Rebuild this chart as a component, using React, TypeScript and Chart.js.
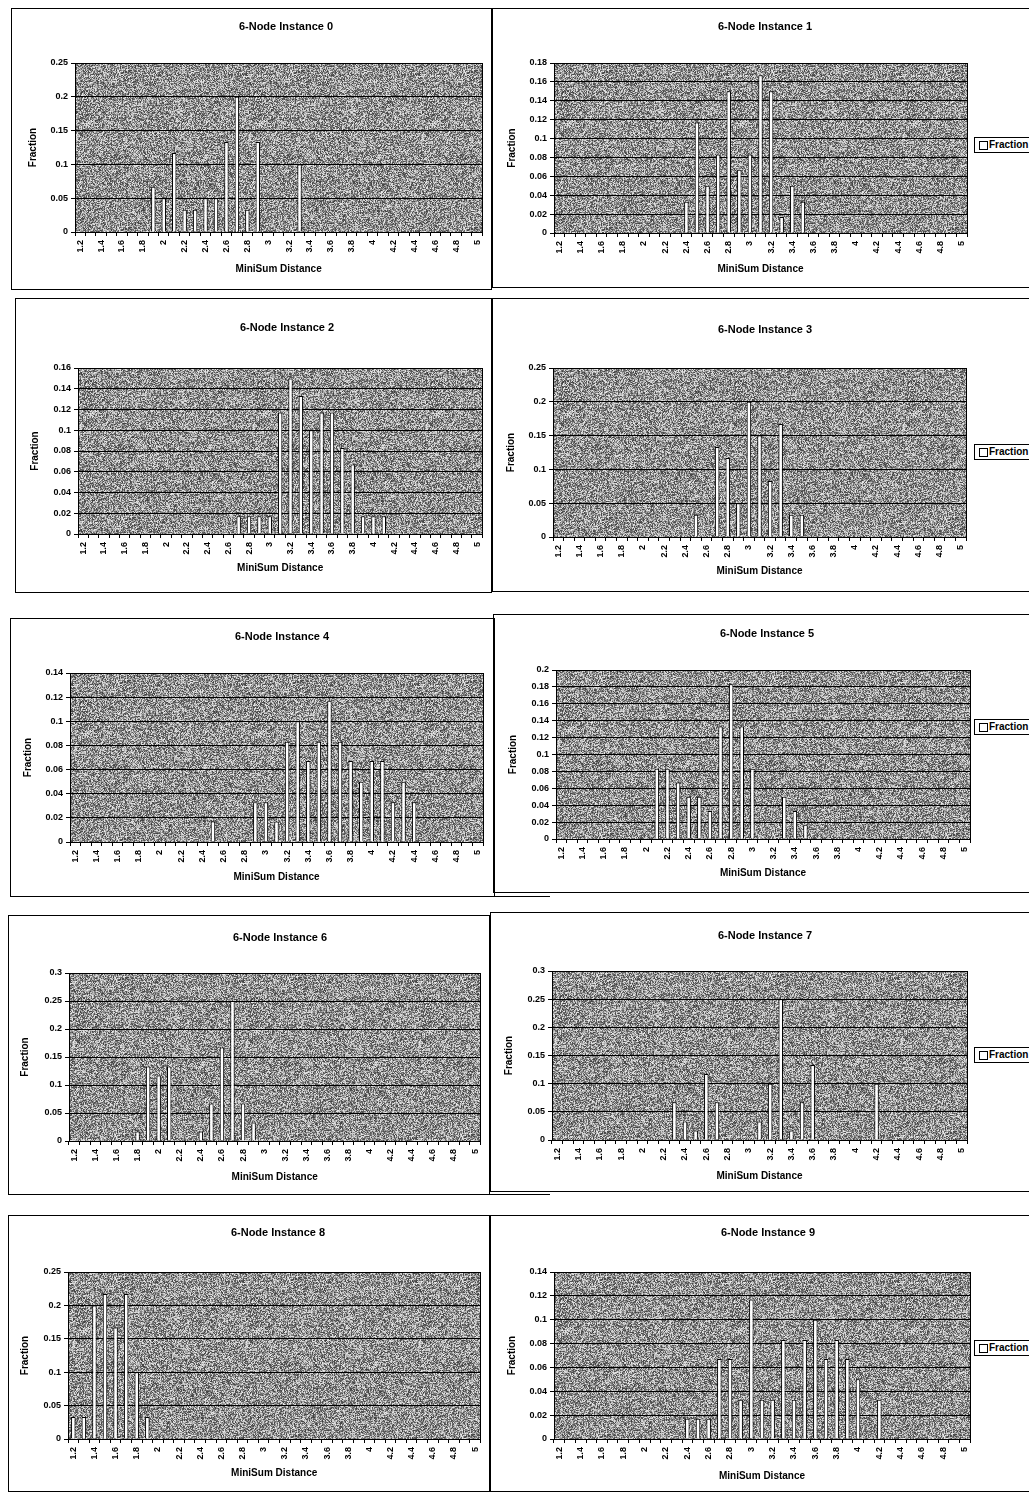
import React, { useEffect, useRef } from 'react';
import { Chart, registerables } from 'chart.js';

Chart.register(...registerables);

const FONT = '"Liberation Sans", Arial, Helvetica, sans-serif';

// ---------- DATA ----------
const categories = ['1.2','1.3','1.4','1.5','1.6','1.7','1.8','1.9','2','2.1','2.2','2.3','2.4','2.5','2.6','2.7','2.8','2.9','3','3.1','3.2','3.3','3.4','3.5','3.6','3.7','3.8','3.9','4','4.1','4.2','4.3','4.4','4.5','4.6','4.7','4.8','4.9','5'];

const seriesName = 'Fraction';
const xAxisTitle = 'MiniSum Distance';
const yAxisTitle = 'Fraction';

const chartTitles = [
  '6-Node Instance 0', '6-Node Instance 1', '6-Node Instance 2', '6-Node Instance 3', '6-Node Instance 4',
  '6-Node Instance 5', '6-Node Instance 6', '6-Node Instance 7', '6-Node Instance 8', '6-Node Instance 9',
];

const instance0 = [0,0,0,0,0,0,0,0.067,0.05,0.117,0.033,0.033,0.05,0.05,0.133,0.2,0.033,0.133,0,0,0,0.1,0,0,0,0,0,0,0,0,0,0,0,0,0,0,0,0,0];
const instance1 = [0,0,0,0,0,0,0,0,0,0,0,0,0.033,0.117,0.05,0.083,0.15,0.067,0.083,0.167,0.15,0.017,0.05,0.033,0,0,0,0,0,0,0,0,0,0,0,0,0,0,0];
const instance2 = [0,0,0,0,0,0,0,0,0,0,0,0,0,0,0,0.017,0.017,0.017,0.017,0.117,0.15,0.133,0.1,0.117,0.117,0.083,0.067,0.017,0.017,0.017,0,0,0,0,0,0,0,0,0];
const instance3 = [0,0,0,0,0,0,0,0,0,0,0,0,0,0.033,0,0.133,0.117,0.05,0.2,0.15,0.083,0.167,0.033,0.033,0,0,0,0,0,0,0,0,0,0,0,0,0,0,0];
const instance4 = [0,0,0,0,0,0,0,0,0,0,0,0,0,0.017,0,0,0,0.033,0.033,0.017,0.083,0.1,0.067,0.083,0.117,0.083,0.067,0.05,0.067,0.067,0.033,0.05,0.033,0,0,0,0,0,0];
const instance5 = [0,0,0,0,0,0,0,0,0,0.083,0.083,0.067,0.05,0.05,0.033,0.133,0.183,0.133,0.083,0,0,0.05,0.033,0.017,0,0,0,0,0,0,0,0,0,0,0,0,0,0,0];
const instance6 = [0,0,0,0,0,0,0.017,0.133,0.117,0.133,0,0,0.017,0.067,0.167,0.25,0.067,0.033,0,0,0,0,0,0,0,0,0,0,0,0,0,0,0,0,0,0,0,0,0];
const instance7 = [0,0,0,0,0,0,0,0,0,0,0,0.067,0.033,0.017,0.117,0.067,0,0,0,0.033,0.1,0.25,0.017,0.067,0.133,0,0,0,0,0,0.1,0,0,0,0,0,0,0,0];
const instance8 = [0.033,0.033,0.2,0.217,0.167,0.217,0.1,0.033,0,0,0,0,0,0,0,0,0,0,0,0,0,0,0,0,0,0,0,0,0,0,0,0,0,0,0,0,0,0,0];
const instance9 = [0,0,0,0,0,0,0,0,0,0,0,0,0.017,0.017,0.017,0.067,0.067,0.033,0.117,0.033,0.033,0.083,0.033,0.083,0.1,0.067,0.083,0.067,0.05,0,0.033,0,0,0,0,0,0,0,0];

const seriesList = [instance0, instance1, instance2, instance3, instance4, instance5, instance6, instance7, instance8, instance9];

const yMaxValues = [0.25, 0.18, 0.16, 0.25, 0.14, 0.2, 0.3, 0.3, 0.25, 0.14];
const yStepValues = [0.05, 0.02, 0.02, 0.05, 0.02, 0.02, 0.05, 0.05, 0.05, 0.02];

// ---------- LAYOUT (page coordinates) ----------
type PanelLayout = {
  box: [number, number, number, number];
  plot: [number, number, number, number];
  title: [number, number];
  yTitleX: number;
  xTitleY: number;
  legendY: number | null;
};

const panels: PanelLayout[] = [
  { box: [11, 8, 481, 282], plot: [75, 63, 485, 232], title: [286, 27], yTitleX: 33, xTitleY: 269, legendY: null },
  { box: [492, 8, 545, 280], plot: [554, 63, 967, 233], title: [765, 27], yTitleX: 512, xTitleY: 269, legendY: 145 },
  { box: [15, 298, 477, 295], plot: [78, 368, 485, 534], title: [287, 328], yTitleX: 35, xTitleY: 568, legendY: null },
  { box: [492, 298, 545, 294], plot: [553, 368, 966, 537], title: [765, 330], yTitleX: 511, xTitleY: 571, legendY: 452 },
  { box: [10, 618, 485, 279], plot: [70, 673, 483, 842], title: [282, 637], yTitleX: 28, xTitleY: 877, legendY: null },
  { box: [493, 614, 545, 279], plot: [556, 670, 970, 839], title: [767, 634], yTitleX: 513, xTitleY: 873, legendY: 727 },
  { box: [8, 915, 482, 280], plot: [69, 973, 482, 1141], title: [280, 938], yTitleX: 25, xTitleY: 1177, legendY: null },
  { box: [490, 912, 548, 280], plot: [552, 971, 967, 1140], title: [765, 936], yTitleX: 509, xTitleY: 1176, legendY: 1055 },
  { box: [8, 1215, 482, 277], plot: [68, 1272, 481, 1439], title: [278, 1233], yTitleX: 25, xTitleY: 1473, legendY: null },
  { box: [490, 1215, 548, 277], plot: [554, 1272, 970, 1439], title: [768, 1233], yTitleX: 512, xTitleY: 1476, legendY: 1348 },
];

// stray frame edges visible in the scan: [x, y, width]
const extraRules: [number, number, number][] = [
  [495, 896, 55],
  [490, 1194, 60],
];

// ---------- speckled gray plot background ----------
let noiseCanvas: HTMLCanvasElement | null = null;
function getNoise(): HTMLCanvasElement {
  if (noiseCanvas) return noiseCanvas;
  const c = document.createElement('canvas');
  c.width = 173;
  c.height = 157;
  const ctx = c.getContext('2d')!;
  const img = ctx.createImageData(c.width, c.height);
  let s = 2463534242 | 0;
  for (let i = 0; i < c.width * c.height; i++) {
    s ^= s << 13;
    s ^= s >> 17;
    s ^= s << 5;
    const r = ((s >>> 0) % 1000) / 1000;
    const v = r < 0.5 ? 62 + r * 2 * 80 : 150 + (r - 0.5) * 2 * 85;
    img.data[i * 4] = v;
    img.data[i * 4 + 1] = v;
    img.data[i * 4 + 2] = v;
    img.data[i * 4 + 3] = 255;
  }
  ctx.putImageData(img, 0, 0);
  noiseCanvas = c;
  return c;
}

const decoPlugin = {
  id: 'panelDeco',
  beforeDraw(chart: any) {
    const { ctx, chartArea } = chart;
    const pat = ctx.createPattern(getNoise(), 'repeat');
    ctx.save();
    ctx.fillStyle = pat || '#909090';
    ctx.fillRect(chartArea.left, chartArea.top, chartArea.right - chartArea.left, chartArea.bottom - chartArea.top);
    ctx.restore();
  },
  afterDraw(chart: any, _args: any, opts: any) {
    const { ctx, chartArea } = chart;
    ctx.save();
    ctx.strokeStyle = '#000';
    ctx.lineWidth = 1;
    ctx.strokeRect(
      Math.round(chartArea.left) + 0.5,
      Math.round(chartArea.top) + 0.5,
      Math.round(chartArea.right - chartArea.left),
      Math.round(chartArea.bottom - chartArea.top)
    );
    ctx.fillStyle = '#000';
    ctx.font = `bold 11px ${FONT}`;
    ctx.textAlign = 'center';
    ctx.textBaseline = 'middle';
    ctx.fillText(opts.text, opts.x, opts.y);
    ctx.restore();
  },
};

function fmt(v: number): string {
  return String(parseFloat(Number(v).toFixed(3)));
}

function Panel({ idx }: { idx: number }) {
  const ref = useRef<HTMLCanvasElement>(null);
  const p = panels[idx];
  const [bx, by, bw, bh] = p.box;
  const [px0, py0, px1, py1] = p.plot;

  useEffect(() => {
    const chart = new Chart(ref.current!, {
      type: 'bar',
      data: {
        labels: categories,
        datasets: [
          {
            label: seriesName,
            data: seriesList[idx],
            backgroundColor: '#ffffff',
            borderColor: '#000000',
            borderWidth: 1,
            barPercentage: 0.42,
            categoryPercentage: 1,
          },
        ],
      },
      options: {
        responsive: false,
        animation: false,
        devicePixelRatio: 1,
        events: [],
        layout: { padding: { top: py0 - by, left: 0, right: bx + bw - px1, bottom: 0 } },
        plugins: {
          legend: { display: false },
          title: { display: false },
          tooltip: { enabled: false },
          panelDeco: { text: chartTitles[idx], x: p.title[0] - bx, y: p.title[1] - by },
        } as any,
        scales: {
          x: {
            offset: true,
            grid: { display: true, drawOnChartArea: false, drawTicks: true, tickLength: 4, color: '#000' },
            border: { display: true, color: '#000', width: 1 },
            ticks: {
              autoSkip: false,
              maxRotation: 90,
              minRotation: 90,
              padding: 4,
              color: '#000',
              font: { family: FONT, size: 9, weight: 'bold' },
              callback: (_v: any, i: number) => (i % 2 === 0 ? categories[i] : ''),
            },
            title: {
              display: true,
              text: xAxisTitle,
              color: '#000',
              font: { family: FONT, size: 10, weight: 'bold' },
              padding: { top: 0, bottom: by + bh - p.xTitleY - 6 },
            },
            afterFit: (s: any) => {
              s.height = by + bh - py1;
            },
          },
          y: {
            min: 0,
            max: yMaxValues[idx],
            grid: { display: true, drawTicks: true, tickLength: 4, color: '#000', lineWidth: 1 },
            border: { display: true, color: '#000', width: 1 },
            ticks: {
              stepSize: yStepValues[idx],
              padding: 3,
              color: '#000',
              font: { family: FONT, size: 9, weight: 'bold' },
              callback: (v: any) => fmt(v),
            },
            title: {
              display: true,
              text: yAxisTitle,
              color: '#000',
              font: { family: FONT, size: 10, weight: 'bold' },
              padding: { top: p.yTitleX - bx - 6, bottom: 0 },
            },
            afterFit: (s: any) => {
              s.width = px0 - bx;
            },
          },
        },
      } as any,
      plugins: [decoPlugin as any],
    });
    return () => chart.destroy();
  }, []);

  return (
    <>
      <canvas
        ref={ref}
        width={bw}
        height={bh}
        style={{ position: 'absolute', left: bx, top: by, width: bw, height: bh }}
      />
      <div
        style={{
          position: 'absolute',
          left: bx,
          top: by,
          width: bw,
          height: bh,
          border: '1px solid #000',
          boxSizing: 'border-box',
          pointerEvents: 'none',
        }}
      />
      {p.legendY !== null && (
        <div
          style={{
            position: 'absolute',
            left: 974,
            top: p.legendY - 8,
            width: 70,
            height: 16,
            border: '1px solid #000',
            boxSizing: 'border-box',
            background: '#fff',
            fontFamily: FONT,
            fontSize: 10,
            fontWeight: 'bold',
            lineHeight: '14px',
            color: '#000',
            whiteSpace: 'nowrap',
          }}
        >
          <span
            style={{
              position: 'absolute',
              left: 4,
              top: 3,
              width: 7,
              height: 7,
              border: '1px solid #000',
              background: '#fff',
            }}
          />
          <span style={{ position: 'absolute', left: 14, top: 0 }}>{seriesName}</span>
        </div>
      )}
    </>
  );
}

export default function App() {
  return (
    <div
      style={{
        position: 'absolute',
        left: 0,
        top: 0,
        width: 1029,
        height: 1494,
        overflow: 'hidden',
        background: '#fff',
      }}
    >
      {panels.map((_, i) => (
        <Panel key={i} idx={i} />
      ))}
      {extraRules.map(([x, y, w], i) => (
        <div key={'r' + i} style={{ position: 'absolute', left: x, top: y, width: w, height: 1, background: '#000' }} />
      ))}
    </div>
  );
}
